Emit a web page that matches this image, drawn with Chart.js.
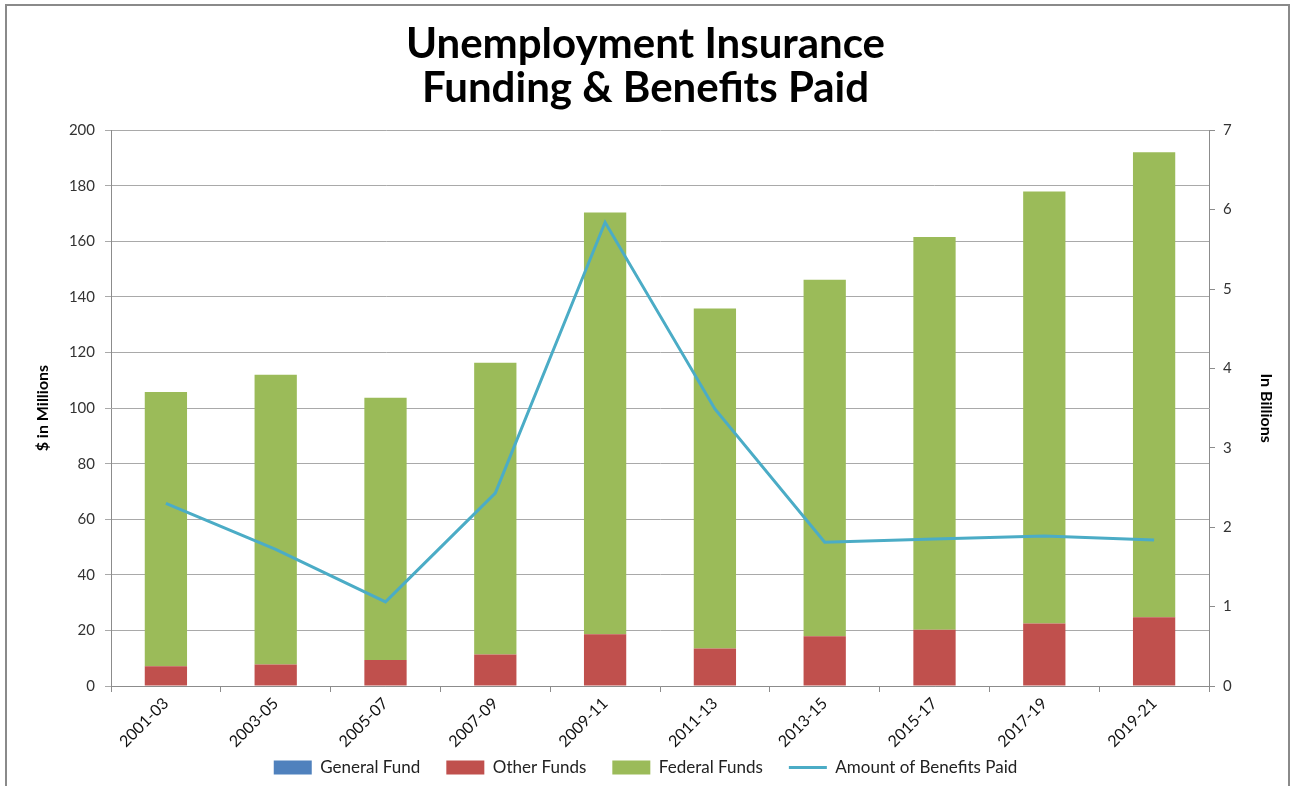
<!DOCTYPE html>
<html>
<head>
<meta charset="utf-8">
<script src="https://cdn.jsdelivr.net/npm/chart.js@4.4.1/dist/chart.umd.min.js"></script>
<style>
  body { margin: 0; background: #fff; }
  #frame { position: absolute; left: 5px; top: 4px; width: 1281px; height: 800px;
           border: 2px solid #8a8a8a; border-bottom: none; }
  #wrap { position: absolute; left: 0; top: 0; width: 1291px; height: 786px; }
</style>
</head>
<body>
<div id="frame"></div>
<div id="wrap"><canvas id="myChart" width="1291" height="786"></canvas></div>
<script>
// biennium labels
const periods = ['2001-03', '2003-05', '2005-07', '2007-09', '2009-11', '2011-13', '2013-15', '2015-17', '2017-19', '2019-21'];
// $ in millions
const generalFund = [0, 0, 0, 0, 0, 0, 0, 0, 0, 0];
const otherFunds = [7.1, 7.7, 9.4, 11.3, 18.6, 13.5, 17.9, 20.2, 22.5, 24.7];
const federalFunds = [98.7, 104.3, 94.3, 105.0, 151.8, 122.3, 128.3, 141.4, 155.4, 167.4];
// in billions
const benefitsPaid = [2.30, 1.72, 1.06, 2.43, 5.84, 3.49, 1.81, 1.85, 1.89, 1.84];

const leftTicks = [0, 20, 40, 60, 80, 100, 120, 140, 160, 180, 200];
const rightTicks = [0, 1, 2, 3, 4, 5, 6, 7];

Chart.defaults.font.family = 'Lato, "Open Sans", sans-serif';
Chart.defaults.color = '#333';

const gridCor = '#a9a9a9';
const eixoCor = '#8c8c8c';

const data = {
    labels: periods,
    datasets: [
        { type: 'bar', label: 'General Fund', data: generalFund, backgroundColor: '#4f81bd',
          yAxisID: 'y', order: 2, pointStyle: 'rect', barPercentage: 0.385, categoryPercentage: 1 },
        { type: 'bar', label: 'Other Funds', data: otherFunds, backgroundColor: '#c0504d',
          yAxisID: 'y', order: 2, pointStyle: 'rect', barPercentage: 0.385, categoryPercentage: 1 },
        { type: 'bar', label: 'Federal Funds', data: federalFunds, backgroundColor: '#9bbb59',
          yAxisID: 'y', order: 2, pointStyle: 'rect', barPercentage: 0.385, categoryPercentage: 1 },
        { type: 'line', label: 'Amount of Benefits Paid', data: benefitsPaid, borderColor: '#4bacc6',
          backgroundColor: '#4bacc6', borderWidth: 3, pointRadius: 0, pointStyle: 'line',
          yAxisID: 'y1', order: 0, tension: 0 }
    ]
};

const options = {
    responsive: false,
    animation: false,
    layout: { padding: { left: 0, right: 0, top: 0, bottom: 0 } },
    plugins: {
        title: {
            display: true,
            text: ['Unemployment Insurance', 'Funding & Benefits Paid'],
            color: '#000',
            font: { size: 42, weight: 'bold', lineHeight: 1.05 },
            padding: { top: 22, bottom: 20 }
        },
        legend: {
            display: true,
            position: 'bottom',
            labels: {
                usePointStyle: true,
                pointStyleWidth: 38,
                boxHeight: 14,
                padding: 26,
                color: '#222',
                font: { size: 17 },
                sort: (a, b) => a.datasetIndex - b.datasetIndex
            }
        },
        tooltip: { enabled: false }
    },
    scales: {
        x: {
            stacked: true,
            offset: true,
            grid: { display: true, drawOnChartArea: false, offset: true, tickLength: 6, color: eixoCor },
            border: { display: true, color: eixoCor },
            ticks: { minRotation: 45, maxRotation: 45, color: '#111', font: { size: 16 }, padding: 2 },
            afterFit: (scale) => {
                scale.height = 47;
                // rotulos inclinados passam da altura do eixo, nao cortar
                scale._computeLabelArea = () => null;
            }
        },
        y: {
            stacked: true,
            position: 'left',
            min: 0, max: 200,
            afterBuildTicks: (scale) => { scale.ticks = leftTicks.map(v => ({ value: v })); },
            grid: { color: gridCor, tickLength: 6 },
            border: { display: true, color: eixoCor },
            ticks: { color: '#333', font: { size: 15 }, padding: 10 },
            title: { display: true, text: '$ in Millions', color: '#000', font: { size: 16, weight: 'bold' }, padding: { top: 33, bottom: 0 } },
            afterFit: (scale) => { scale.width = 111; }
        },
        y1: {
            position: 'right',
            min: 0, max: 7,
            afterBuildTicks: (scale) => { scale.ticks = rightTicks.map(v => ({ value: v })); },
            grid: { drawOnChartArea: false, color: eixoCor, tickLength: 6 },
            border: { display: true, color: eixoCor },
            ticks: { color: '#333', font: { size: 15 }, padding: 8 },
            title: { display: true, text: 'In Billions', color: '#000', font: { size: 16, weight: 'bold' }, padding: { top: 15, bottom: 0 } },
            afterFit: (scale) => { scale.width = 82; }
        }
    }
};

const config = {
    type: 'bar',
    data: data,
    options: options
};

const myChart = new Chart(document.getElementById('myChart'), config);
</script>
</body>
</html>
